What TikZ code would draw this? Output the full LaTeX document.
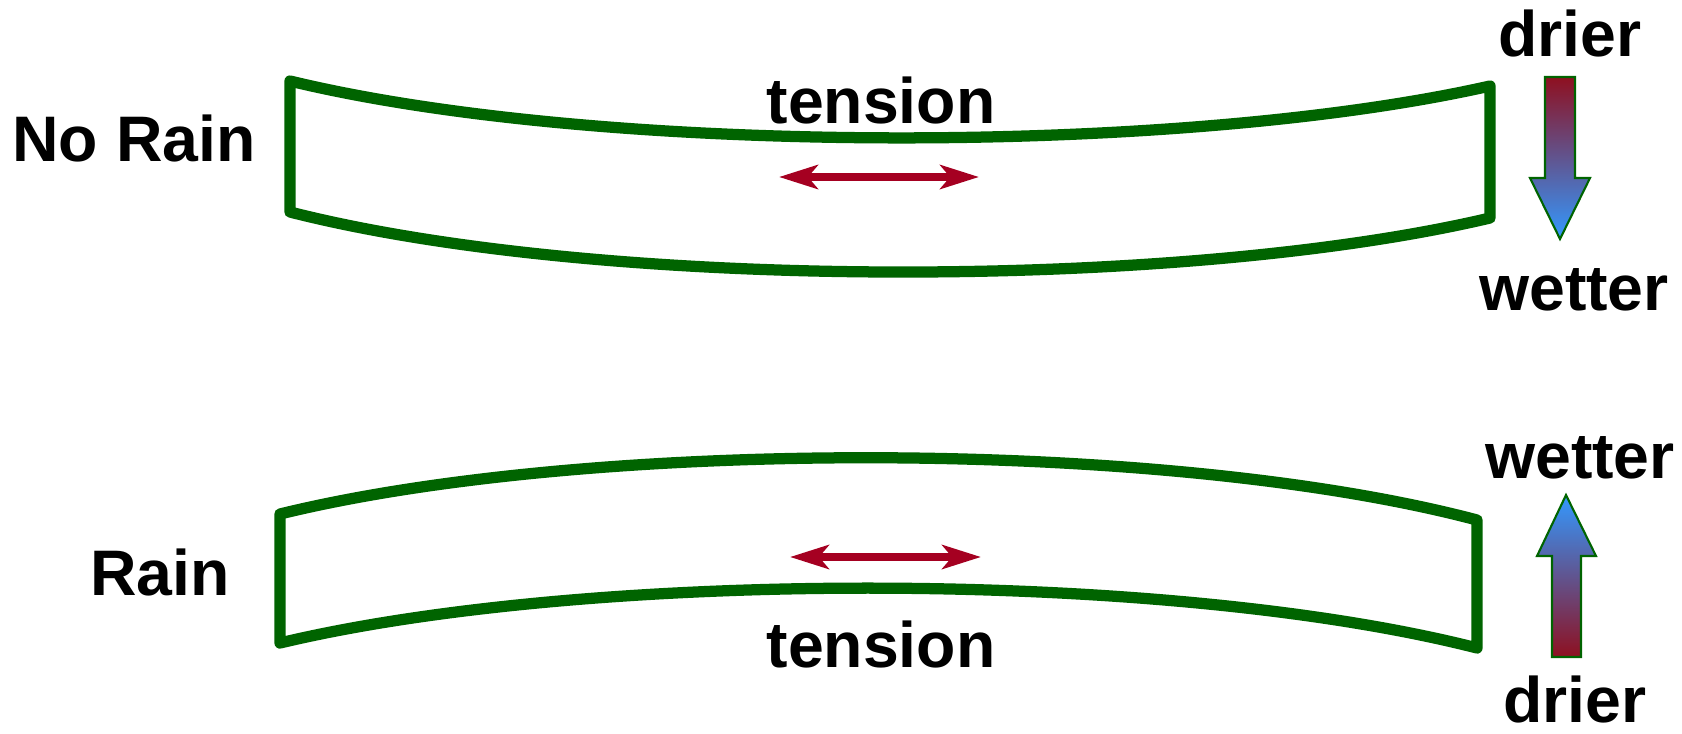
\documentclass[tikz,border=0pt]{standalone}
\usepackage{fontspec}
\setmainfont{Liberation Sans}
\usepackage{tikz}
\usetikzlibrary{arrows.meta}

\definecolor{leafgreen}{HTML}{006400}
\definecolor{pullred}{HTML}{A50021}
\definecolor{dryred}{HTML}{8E1020}
\definecolor{wetblue}{HTML}{3399FF}

\tikzset{
  lbl/.style={font=\fontsize{18.3}{22}\selectfont\bfseries,anchor=base,inner sep=0pt},
  slab/.style={draw=leafgreen,line width=3.2pt,line join=round,line cap=round},
  pull/.style={draw=pullred,line width=2.3pt,
    {Stealth[length=11pt,width=6.8pt,inset=2.8pt]}-{Stealth[length=11pt,width=6.8pt,inset=2.8pt]}},
  moistdown/.style={draw=leafgreen,line width=0.6pt,top color=dryred,bottom color=wetblue},
  moistup/.style={draw=leafgreen,line width=0.6pt,top color=wetblue,bottom color=dryred}
}

\begin{document}
\begin{tikzpicture}[x=0.01cm,y=-0.01cm]
\useasboundingbox (0,0) rectangle (1682,733);

% no rain
\node at (134,161) [lbl] (norain) {No Rain};
\node at (881,123) [lbl] (tensup) {tension};
\draw [slab] (290,81) -- (290,212) .. controls (600,291) and (1180,291) .. (1490,218)
  -- (1490,86) .. controls (1180,156) and (600,156) .. (290,81) -- cycle;
\coordinate (pullupl) at (779,177);
\coordinate (pullupr) at (979,177);
\draw [pull] (pullupl) -- (pullupr);

\node at (1570,56)  [lbl] (dryup) {drier};
\node at (1574,310) [lbl] (wetup) {wetter};
\path [moistdown] (1545,77) -- (1575,77) -- (1575,178) -- (1590,178) -- (1560,239)
  -- (1530,178) -- (1545,178) -- cycle;

% rain
\node at (160,595) [lbl] (rain) {Rain};
\node at (881,667) [lbl] (tenslo) {tension};
\draw [slab] (280,514) -- (280,643) .. controls (590,569) and (1167,569) .. (1477,648)
  -- (1477,520) .. controls (1167,438) and (590,438) .. (280,514) -- cycle;
\coordinate (pulllol) at (790,557);
\coordinate (pulllor) at (981,557);
\draw [pull] (pulllol) -- (pulllor);

\node at (1580,478) [lbl] (wetlo) {wetter};
\node at (1575,722) [lbl] (drylo) {drier};
\path [moistup] (1552,657) -- (1581,657) -- (1581,556) -- (1596,556) -- (1566,495)
  -- (1537,556) -- (1552,556) -- cycle;
\end{tikzpicture}
\end{document}
